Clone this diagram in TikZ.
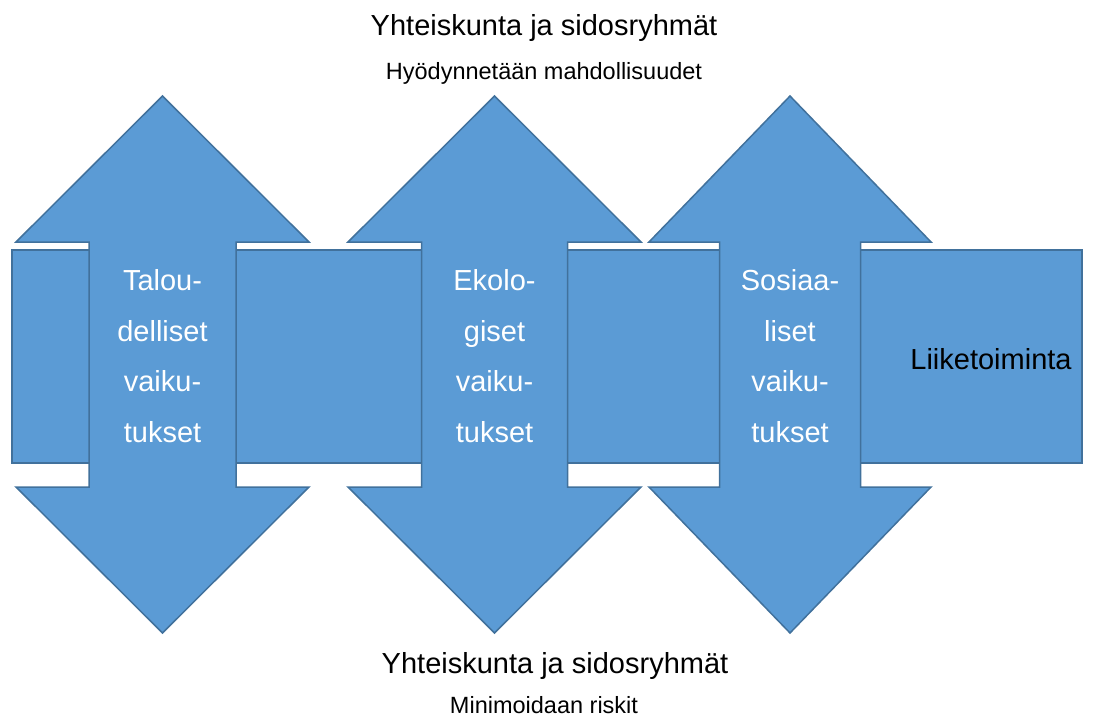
\documentclass[tikz,border=0pt]{standalone}
\usepackage{fontspec}
\setmainfont{Liberation Sans}
\usepackage{tikz}
\definecolor{boxblue}{HTML}{5B9BD5}
\definecolor{edgeblue}{HTML}{41719C}
\tikzset{
  block/.style={draw=edgeblue,fill=boxblue,line width=1.5pt},
  armlabel/.style={text=white,align=center,inner sep=0pt,font=\fontsize{29}{50.5}\selectfont},
  headline/.style={inner sep=0pt,anchor=base,font=\fontsize{29}{34}\selectfont},
  subline/.style={inner sep=0pt,anchor=base,font=\fontsize{23.5}{28}\selectfont}
}
\begin{document}
\begin{tikzpicture}[x=1pt,y=-1pt]
  \useasboundingbox (0,0) rectangle (1105,720);
  % the bands behind the arrows
  \foreach \l/\r in {12/160,200/450,540/740,840/1082}{
    \draw[block] (\l,250) rectangle (\r,463);}
  % the double arrows
  \foreach \c/\s/\h in {162.5/73.5/146.5,494.5/73/146.5,790/70.5/141}{
    \draw[block] (\c,96) -- (\c+\h,242) -- (\c+\s,242) -- (\c+\s,487)
      -- (\c+\h,487) -- (\c,633) -- (\c-\h,487) -- (\c-\s,487)
      -- (\c-\s,242) -- (\c-\h,242) -- cycle;}
  \node[armlabel] (talous) at (162.5,356) {Talou-\\delliset\\vaiku-\\tukset};
  \node[armlabel] (ekolo) at (494.5,356) {Ekolo-\\giset\\vaiku-\\tukset};
  \node[armlabel] (sosiaa) at (790,356) {Sosiaa-\\liset\\vaiku-\\tukset};
  \node[headline] (liike) at (991,369) {Liiketoiminta};
  \node[headline] (ylaotsikko) at (544,35) {Yhteiskunta ja sidosryhmät};
  \node[subline] (ylarivi) at (544,79) {Hyödynnetään mahdollisuudet};
  \node[headline] (alaotsikko) at (555,673) {Yhteiskunta ja sidosryhmät};
  \node[subline] (alarivi) at (544,713) {Minimoidaan riskit};
\end{tikzpicture}
\end{document}
